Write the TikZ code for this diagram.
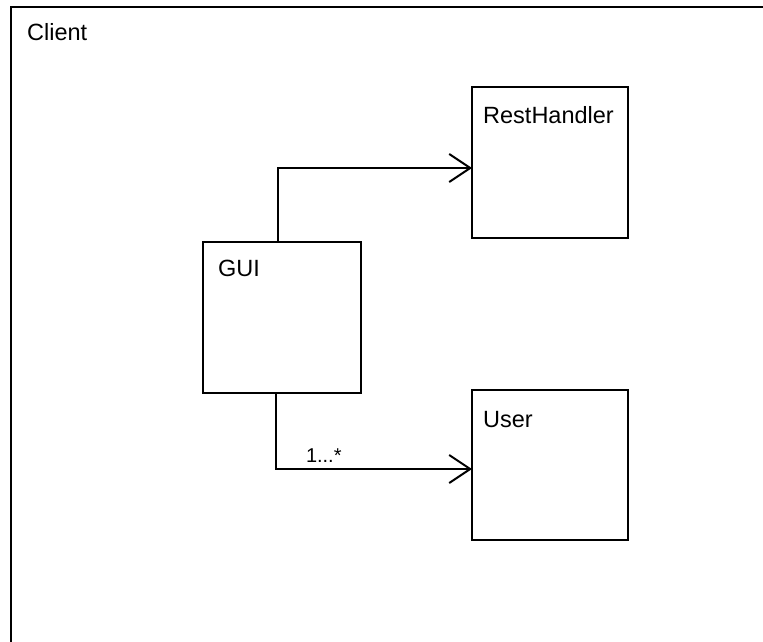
\documentclass[tikz,border=0pt]{standalone}
\usepackage{fontspec}
\setmainfont{Liberation Sans}
\usetikzlibrary{arrows.meta}
\begin{document}
\begin{tikzpicture}[x=1pt,y=-1pt,
  box/.style={draw, line width=2pt, fill=white, inner sep=0pt, outer sep=0pt, anchor=north west},
  lbl/.style={anchor=base west, inner sep=0pt, font=\fontsize{23.5}{28}\selectfont},
  conn/.style={draw, line width=2pt, -{Straight Barb[length=21pt,width=28pt,line width=2pt]}}]
  \useasboundingbox (0,0) rectangle (763,642);
  \fill[white] (0,0) rectangle (763,642);
  \begin{scope}
    \clip (0,0) rectangle (763,642);
    % package frame, running past the page on the right and bottom
    \draw[line width=2.4pt] (11,7) rectangle (820,700);
  \end{scope}
  \node[lbl] (client) at (27,41) {Client};

  % classes
  \node[box, minimum width=156pt, minimum height=151pt] (rest) at (472,87) {};
  \node[box, minimum width=158pt, minimum height=151pt] (gui) at (203,242) {};
  \node[box, minimum width=156pt, minimum height=150pt] (user) at (472,390) {};

  \node[lbl] (restlbl) at (483,123) {RestHandler};
  \node[lbl] (guilbl) at (218,276) {GUI};
  \node[lbl] (userlbl) at (483,427) {User};

  % associations
  \draw[conn] ([xshift=-4pt]gui.north) |- ([yshift=-5.5pt]rest.west);
  \draw[conn] ([xshift=-6pt]gui.south) |- ([yshift=-4pt]user.west)
    node[pos=0.5, anchor=base west, inner sep=0pt, xshift=29pt, yshift=7pt,
         font=\fontsize{20}{24}\selectfont] (mult) {1...*};
\end{tikzpicture}
\end{document}
